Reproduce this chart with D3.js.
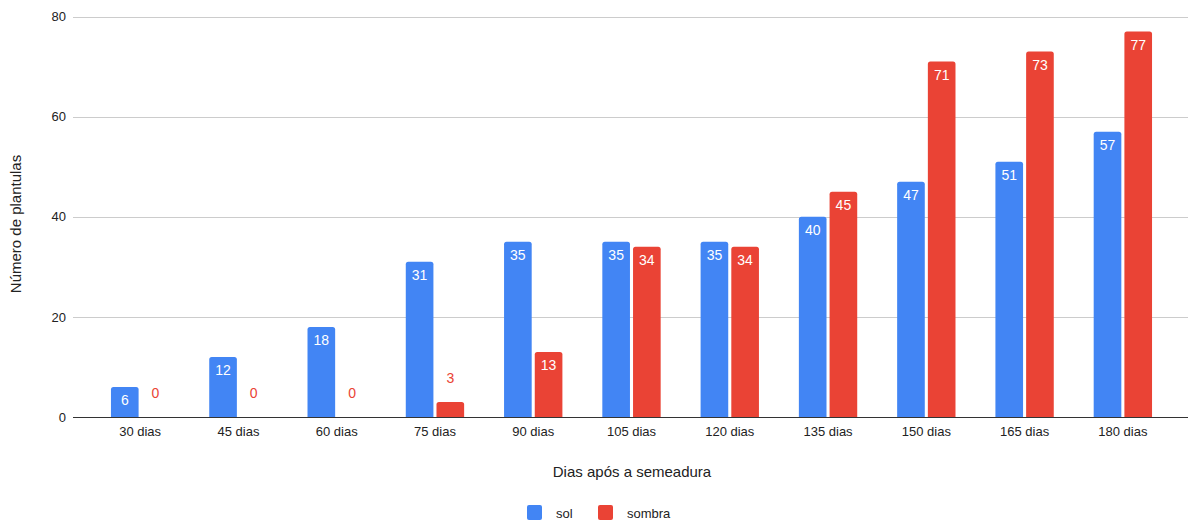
<!DOCTYPE html>
<html><head><meta charset="utf-8">
<script src="https://cdn.jsdelivr.net/npm/d3@7"></script>
<style>body{margin:0;background:#fff}svg{display:block;font-family:"Liberation Sans",Arial,sans-serif}</style>
</head><body><svg id="c" width="1188" height="524"></svg>
<script>
const categories = ["30 dias","45 dias","60 dias","75 dias","90 dias","105 dias","120 dias","135 dias","150 dias","165 dias","180 dias"];
const sol = [6,12,18,31,35,35,35,40,47,51,57];
const sombra = [0,0,0,3,13,34,34,45,71,73,77];
const seriesNames = ["sol","sombra"];
const colors = ["#4285F4","#EA4335"];
const yTicks = [0,20,40,60,80];

const svg = d3.select("#c");
const x = d3.scaleBand().domain(categories).range([91,1172]);
const y = d3.scaleLinear().domain([0,80]).range([417,16.5]);
const xs = d3.scaleBand().domain(seriesNames).range([0, x.bandwidth()]).paddingInner(0.1).paddingOuter(0.65);

svg.append("g").selectAll("line").data(yTicks.filter(d=>d>0)).join("line")
  .attr("x1",73).attr("x2",1188).attr("y1",d=>Math.round(y(d))+0.5).attr("y2",d=>Math.round(y(d))+0.5)
  .attr("stroke","#cccccc").attr("stroke-width",1);

const yAxis = d3.axisLeft(y).tickValues(yTicks).tickSize(0).tickPadding(7);
const gy = svg.append("g").attr("transform","translate(73,0)").call(yAxis);
gy.select(".domain").remove();
gy.selectAll("text").attr("font-size",13).attr("fill","#222").attr("font-family","Liberation Sans, Arial, sans-serif");

function roundTop(x0,y0,w,h,r){
  r=Math.min(r,h/2,w/2);
  if(h<=0) return "";
  return `M${x0},${y0+h}V${y0+r}Q${x0},${y0} ${x0+r},${y0}H${x0+w-r}Q${x0+w},${y0} ${x0+w},${y0+r}V${y0+h}Z`;
}

const data = [];
categories.forEach((c,i)=>{
  data.push({c, s:"sol", v:sol[i], col:colors[0]});
  data.push({c, s:"sombra", v:sombra[i], col:colors[1]});
});

svg.append("g").selectAll("path").data(data.filter(d=>d.v>0)).join("path")
  .attr("d",d=>roundTop(x(d.c)+xs(d.s), y(d.v), xs.bandwidth(), y(0)-y(d.v), 2.5))
  .attr("fill",d=>d.col);

svg.append("g").selectAll("text").data(data).join("text")
  .attr("x",d=>x(d.c)+xs(d.s)+xs.bandwidth()/2)
  .attr("y",d=>{ const h=y(0)-y(d.v); return h>22 ? y(d.v)+18 : y(d.v)-19; })
  .attr("text-anchor","middle").attr("font-size",14)
  .attr("fill",d=>{ const h=y(0)-y(d.v); return h>22 ? "#ffffff" : d.col; })
  .text(d=>d.v);

svg.append("line").attr("x1",73).attr("x2",1188).attr("y1",417.5).attr("y2",417.5).attr("stroke","#333").attr("stroke-width",1);

const xAxis = d3.axisBottom(x).tickSize(0).tickPadding(10);
const gx = svg.append("g").attr("transform","translate(0,417)").call(xAxis);
gx.select(".domain").remove();
gx.selectAll("text").attr("font-size",13).attr("fill","#222").attr("font-family","Liberation Sans, Arial, sans-serif");

svg.append("text").attr("x",632).attr("y",477).attr("text-anchor","middle").attr("font-size",15).attr("fill","#222").text("Dias após a semeadura");
svg.append("text").attr("transform","translate(21,224) rotate(-90)").attr("text-anchor","middle").attr("font-size",15).attr("fill","#222").text("Número de plantulas");

const legX = [527, 598];
const lg = svg.append("g").selectAll("g").data(seriesNames).join("g").attr("transform",(d,i)=>`translate(${legX[i]},505)`);
lg.append("rect").attr("width",15).attr("height",15).attr("rx",2).attr("fill",(d,i)=>colors[i]);
lg.append("text").attr("x",29).attr("y",12.5).attr("font-size",13).attr("fill","#222").text(d=>d);
</script></body></html>
